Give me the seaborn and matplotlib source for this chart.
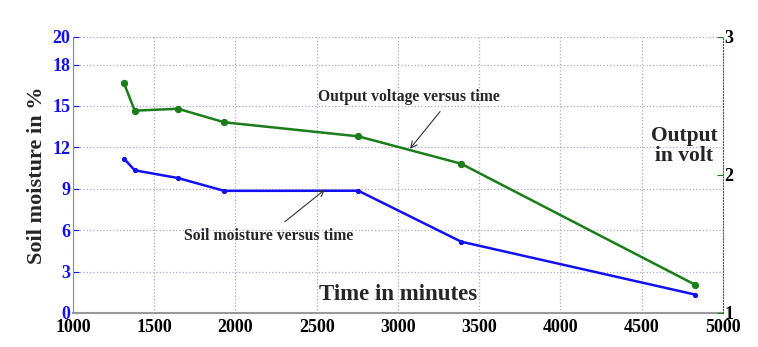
import matplotlib
matplotlib.use("Agg")
import matplotlib.pyplot as plt
import seaborn as sns
import pandas as pd

time_min = [1314, 1380, 1646, 1931, 2756, 3388, 4830]
soil_moisture = [11.18, 10.34, 9.78, 8.85, 8.86, 5.17, 1.33]
output_volt = [2.664, 2.466, 2.480, 2.382, 2.280, 2.082, 1.204]

x_ticks = [1000, 1500, 2000, 2500, 3000, 3500, 4000, 4500, 5000]
y_left_ticks = [0, 3, 6, 9, 12, 15, 18, 20]
y_right_ticks = [1, 2, 3]

sns.set_style("white")
plt.rcParams['font.family'] = ['Liberation Serif', 'DejaVu Serif']
plt.rcParams['font.weight'] = 'bold'

blue = '#1010f0'
green = '#1a7d1a'

fig = plt.figure(figsize=(7.58, 3.47), dpi=100)
ax = fig.add_axes([0.0963, 0.098, 0.8575, 0.7954])

df = pd.DataFrame({'t': time_min, 's': soil_moisture, 'v': output_volt})
sns.lineplot(data=df, x='t', y='s', ax=ax, color=blue, lw=1.8,
             marker='o', markersize=3, markeredgecolor=blue)
ax.set_xlim(1000, 5000)
ax.set_ylim(0, 20)
ax.set_xticks(x_ticks)
ax.set_yticks(y_left_ticks)
ax.set_xticklabels([str(v) for v in x_ticks], fontsize=13, fontweight='bold')
ax.set_yticklabels([str(v) for v in y_left_ticks], fontsize=13, fontweight='bold', color=blue)
ax.tick_params(axis='y', direction='in', length=4, pad=2, colors=blue)
ax.tick_params(axis='x', direction='in', length=4, pad=4, colors='#555555', labelcolor='black')
ax.grid(True, linestyle=':', color='#aaaacc', lw=0.9)
ax.set_xlabel('')
ax.set_ylabel('Soil moisture in %', fontsize=16, fontweight='bold', labelpad=4)
ax.spines['left'].set_color('#8080e0')
ax.spines['bottom'].set_color('#999999')
ax.spines['bottom'].set_linewidth(1.5)
ax.spines['top'].set_visible(False)
ax.spines['right'].set_visible(False)

ax2 = ax.twinx()
sns.lineplot(data=df, x='t', y='v', ax=ax2, color=green, lw=1.8,
             marker='o', markersize=4.5, markeredgecolor=green)
ax2.set_ylim(1, 3)
ax2.set_yticks(y_right_ticks)
ax2.set_yticklabels([str(v) for v in y_right_ticks], fontsize=13, fontweight='bold')
ax2.tick_params(axis='y', direction='in', length=4, pad=1, colors=green, labelcolor='black')
ax2.set_ylabel('')
for s in ['top', 'left', 'bottom']:
    ax2.spines[s].set_visible(False)
ax2.spines['right'].set_color(green)
ax2.spines['right'].set_linestyle(':')

ax.text(3000, 0.55, 'Time in minutes', fontsize=16.5, fontweight='bold', ha='center', va='bottom')
ax2.text(4760, 2.21, 'Output\nin volt', fontsize=15.5, fontweight='bold', ha='center', va='center', linespacing=1.05)

ax2.annotate('Output voltage versus time', xy=(3074, 2.19), xytext=(3068, 2.565),
             fontsize=11.3, fontweight='bold', ha='center', va='center',
             arrowprops=dict(arrowstyle='->', color='#333333', lw=0.8,
                             shrinkA=3, shrinkB=0, relpos=(0.7, 0)))
ax.annotate('Soil moisture versus time', xy=(2551, 8.95), xytext=(2206, 5.6),
            fontsize=11.3, fontweight='bold', ha='center', va='center',
            arrowprops=dict(arrowstyle='->', color='#333333', lw=0.8,
                            shrinkA=3, shrinkB=0, relpos=(0.55, 1)))

fig.savefig('out.png', dpi=100)
